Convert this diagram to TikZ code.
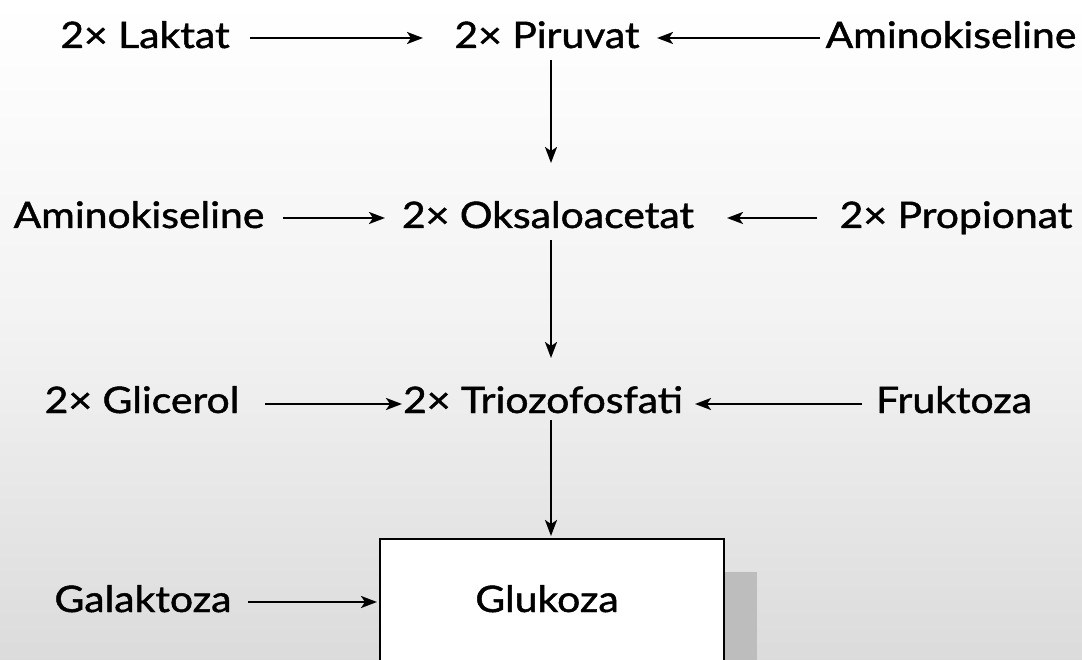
\documentclass[tikz,border=0pt]{standalone}
\usepackage{fontspec}
\setmainfont{Lato}[FakeStretch=1.12,FakeBold=1.3]
\usetikzlibrary{arrows.meta}
\begin{document}
\begin{tikzpicture}[x=1pt,y=-1pt,
  lbl/.style={inner sep=0pt,anchor=base,font=\fontsize{36.5}{40}\selectfont},
  arr/.style={line width=2.2pt,-{Stealth[length=16pt,width=12pt,inset=4pt]}},
  ]
\useasboundingbox (0,0) rectangle (1082,660);
\shade[top color=white,bottom color=black!14,middle color=black!5] (0,0) rectangle (1082,660);
% shadow and box
\fill[black!26] (723,572) rectangle (757,660);
\node[draw,line width=2pt,fill=white,minimum width=344pt,minimum height=140pt,anchor=north west,inner sep=0pt] (box) at (379,538) {};
\node[lbl] (glu) at (547,612) {Glukoza};
% row 1
\node[lbl] (lak) at (145,48) {2× Laktat};
\node[lbl] (pir) at (547,48) {2× Piruvat};
\node[lbl] (am1) at (951,48) {Aminokiseline};
% row 2
\node[lbl] (am2) at (139,228) {Aminokiseline};
\node[lbl] (oks) at (548,228) {2× Oksaloacetat};
\node[lbl] (pro) at (956,228) {2× Propionat};
% row 3
\node[lbl] (gli) at (142,413) {2× Glicerol};
\node[lbl] (tri) at (543,413) {2× Triozofosfati};
\node[lbl] (fru) at (954,413) {Fruktoza};
% row 4
\node[lbl] (gal) at (143,612) {Galaktoza};
% coordinates for connectors
\coordinate (a1s) at (250,38); \coordinate (a1e) at (423,38);
\coordinate (a2s) at (820,38); \coordinate (a2e) at (657,38);
\coordinate (v1s) at (551,60); \coordinate (v1e) at (551,163);
\coordinate (a3s) at (283,218); \coordinate (a3e) at (385,218);
\coordinate (a4s) at (817,218); \coordinate (a4e) at (727,218);
\coordinate (v2s) at (551,240); \coordinate (v2e) at (551,358);
\coordinate (a5s) at (265,404); \coordinate (a5e) at (402,404);
\coordinate (a6s) at (862,404); \coordinate (a6e) at (695,404);
\coordinate (v3s) at (551,420); \coordinate (v3e) at (551,536);
\coordinate (a7s) at (248,602); \coordinate (a7e) at (377,602);
\draw[arr] (a1s) -- (a1e);
\draw[arr] (a2s) -- (a2e);
\draw[arr] (v1s) -- (v1e);
\draw[arr] (a3s) -- (a3e);
\draw[arr] (a4s) -- (a4e);
\draw[arr] (v2s) -- (v2e);
\draw[arr] (a5s) -- (a5e);
\draw[arr] (a6s) -- (a6e);
\draw[arr] (v3s) -- (v3e);
\draw[arr] (a7s) -- (a7e);
\end{tikzpicture}
\end{document}
